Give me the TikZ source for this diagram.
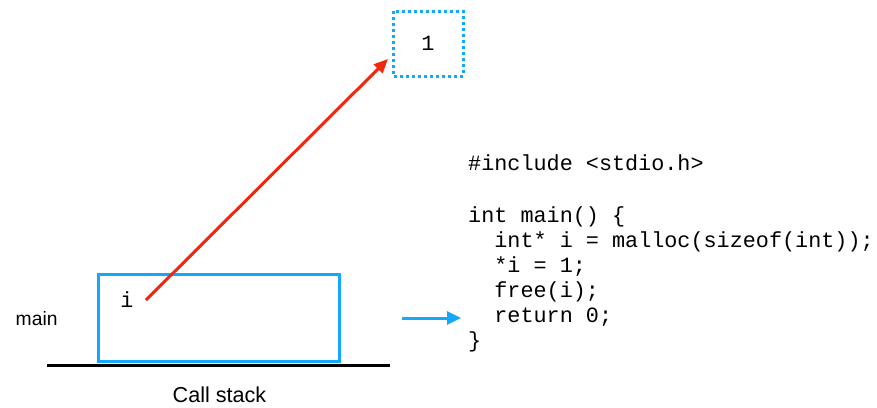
\documentclass[tikz,border=0pt]{standalone}
\usepackage{fontspec}
\setmainfont{Liberation Sans}
\newfontfamily\codefont{Liberation Mono}
\usetikzlibrary{arrows.meta}
\definecolor{stackblue}{RGB}{20,168,250}
\definecolor{ptrred}{RGB}{240,38,14}
\begin{document}
\begin{tikzpicture}[x=1pt,y=-1pt,
  code/.style={anchor=base west,inner sep=0pt,font=\codefont\fontsize{21.8}{26}\selectfont},
  label/.style={inner sep=0pt,font=\fontsize{19.3}{23}\selectfont},
  frame/.style={draw=stackblue,line width=3pt},
  heapbox/.style={draw=stackblue,line width=3pt,dash pattern=on 3pt off 3pt},
  ptr/.style={draw=ptrred,line width=3pt,-{Triangle[length=14pt,width=12pt]}}]
\useasboundingbox (0,0) rectangle (877,407);
% heap cell
\draw[heapbox] (393,11) rectangle (463,76);
\node[code,anchor=base] (one) at (428,50) {1};
\coordinate (heap) at (388,59);
% stack frame of main
\draw[frame] (98,274) rectangle (339,361);
\node[code,anchor=base] (var) at (127,307) {i};
\coordinate (pstart) at (146,300);
\draw[line width=3pt] (47,365) -- (390,365);
\node[label,anchor=base west] (mainlbl) at (15.5,325) {main};
\node[label,anchor=base,font=\fontsize{21.6}{26}\selectfont] (stacklbl) at (219.5,402) {Call stack};
% pointer
\draw[ptr] (pstart) -- (heap);
% source code
\node[code] (l1) at (468,170) {\#include <stdio.h>};
\node[code] (l2) at (468,222) {int main() \{};
\node[code] (l3) at (468,247) {\phantom{xx}int* i = malloc(sizeof(int));};
\node[code] (l4) at (468,272) {\phantom{xx}*i = 1;};
\node[code] (l5) at (468,297) {\phantom{xx}free(i);};
\node[code] (l6) at (468,322) {\phantom{xx}return 0;};
\node[code] (l7) at (468,347) {\}};
% current line marker
\coordinate (mstart) at (402,318);
\coordinate (mend) at (461,318);
\draw[draw=stackblue,line width=3pt,-{Triangle[length=14pt,width=13pt]}] (mstart) -- (mend);
\end{tikzpicture}
\end{document}
